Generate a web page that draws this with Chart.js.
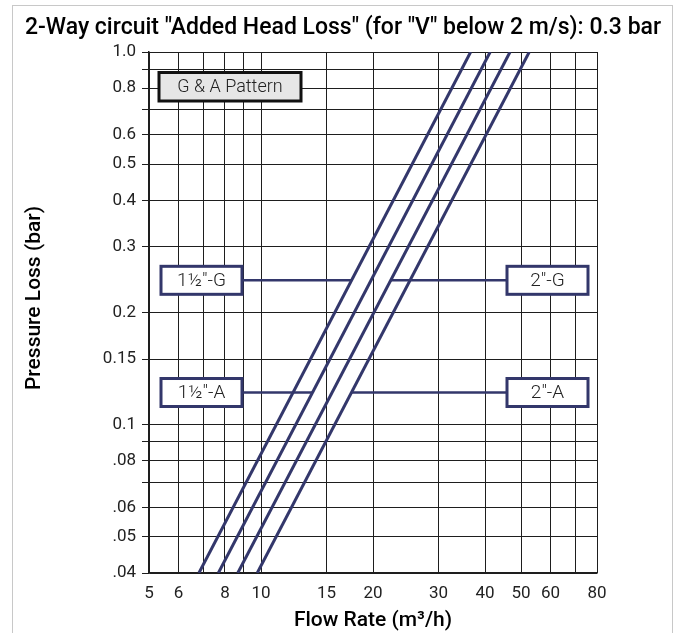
<!DOCTYPE html>
<html><head><meta charset="utf-8">
<script src="https://cdn.jsdelivr.net/npm/chart.js@4.4.1/dist/chart.umd.min.js"></script>
<style>
html,body{margin:0;padding:0;background:#fff;}
#frame{position:absolute;left:12px;top:5px;width:661px;height:700px;border:1px solid #c8c8c8;box-sizing:border-box;}
#c{position:absolute;left:0;top:0;}
</style></head><body>
<div id="frame"></div>
<canvas id="c" width="678" height="633"></canvas>
<script>
// ---- data ----
const chartTitle = '2-Way circuit "Added Head Loss" (for "V" below 2 m/s): 0.3 bar';
const xAxisTitle = 'Flow Rate (m³/h)';
const yAxisTitle = 'Pressure Loss (bar)';
const patternLabel = 'G & A Pattern';
const seriesNames = ['1½"-G', '1½″-A', '2″-G', '2"-A'];
const pressureEnds = [0.04, 1.0];
const flow15G = [6.81, 36.6];
const flow15A = [7.68, 41.3];
const flow2G = [8.66, 46.7];
const flow2A = [9.77, 52.6];
const calloutPressure = [0.244, 0.122, 0.244, 0.122];
const xGridValues = [5, 6, 7, 8, 9, 10, 15, 20, 30, 40, 50, 60, 70, 80];
const xTickLabels = ['5', '6', '', '8', '', '10', '15', '20', '30', '40', '50', '60', '', '80'];
const yGridValues = [0.04, 0.05, 0.06, 0.07, 0.08, 0.09, 0.1, 0.15, 0.2, 0.3, 0.4, 0.5, 0.6, 0.7, 0.8, 0.9, 1.0];
const yTickLabels = ['.04', '.05', '.06', '', '.08', '', '0.1', '0.15', '0.2', '0.3', '0.4', '0.5', '0.6', '', '0.8', '', '1.0'];

// ---- style ----
const FONT = 'Roboto, "Open Sans", "DejaVu Sans", sans-serif';
const NAVY = '#33376b';
const GRID = '#1e1e1e';
const TEXT = '#222222';

const flows = [flow15G, flow15A, flow2G, flow2A];
const datasets = seriesNames.map((name, i) => ({
  label: name,
  data: pressureEnds.map((p, j) => ({ x: flows[i][j], y: p })),
  showLine: true,
  borderColor: NAVY,
  borderWidth: 3,
  pointRadius: 0,
  fill: false
}));

function labelFor(values, labels, v) {
  for (let i = 0; i < values.length; i++) if (Math.abs(values[i] - v) < 1e-9) return labels[i];
  return '';
}

const overlay = {
  id: 'overlay',
  afterDatasetsDraw(chart) {
    const { ctx, chartArea: a, scales: { x, y } } = chart;
    ctx.save();
    chart.data.datasets.forEach((ds, i) => {
      const d = ds.data;
      const p = calloutPressure[i];
      const t = (Math.log(p) - Math.log(d[0].y)) / (Math.log(d[1].y) - Math.log(d[0].y));
      const q = Math.exp(Math.log(d[0].x) + t * (Math.log(d[1].x) - Math.log(d[0].x)));
      const lx = x.getPixelForValue(q);
      const py = y.getPixelForValue(p);
      const w = 81, h = 28;
      const leftSide = i < 2;
      const bx = leftSide ? a.left + 12 : a.right - 9 - w;
      const by = py - h / 2;
      ctx.strokeStyle = NAVY;
      ctx.lineWidth = 2.5;
      ctx.beginPath();
      if (leftSide) { ctx.moveTo(bx + w, py); ctx.lineTo(lx, py); }
      else { ctx.moveTo(bx, py); ctx.lineTo(lx, py); }
      ctx.stroke();
      ctx.fillStyle = '#ffffff';
      ctx.fillRect(bx, by, w, h);
      ctx.lineWidth = 3;
      ctx.strokeRect(bx, by, w, h);
      ctx.fillStyle = TEXT;
      ctx.font = '300 19px ' + FONT;
      ctx.textAlign = 'center';
      ctx.textBaseline = 'middle';
      ctx.fillText(ds.label, bx + w / 2, py + 1);
    });
    const px = a.left + 10, pyTop = a.top + 20.5, pw = 142, ph = 28.5;
    ctx.fillStyle = '#e6e6e6';
    ctx.fillRect(px, pyTop, pw, ph);
    ctx.strokeStyle = '#111';
    ctx.lineWidth = 3;
    ctx.strokeRect(px, pyTop, pw, ph);
    ctx.fillStyle = TEXT;
    ctx.font = '300 18px ' + FONT;
    ctx.textAlign = 'center';
    ctx.textBaseline = 'middle';
    ctx.fillText(patternLabel, px + pw / 2, pyTop + ph / 2 + 1);
    ctx.restore();
  },
  afterDraw(chart) {
    const { ctx, chartArea: a } = chart;
    ctx.save();
    ctx.fillStyle = '#000';
    ctx.textAlign = 'center';
    ctx.textBaseline = 'middle';
    ctx.font = '500 23px ' + FONT;
    ctx.fillText(chartTitle, 343, 28);
    ctx.font = '500 21px ' + FONT;
    ctx.fillText(xAxisTitle, (a.left + a.right) / 2, 621);
    ctx.translate(35, 298);
    ctx.rotate(-Math.PI / 2);
    ctx.fillText(yAxisTitle, 0, 0);
    ctx.restore();
  }
};

new Chart(document.getElementById('c'), {
  type: 'scatter',
  data: { datasets },
  options: {
    responsive: false,
    devicePixelRatio: 1,
    animation: false,
    layout: { padding: { top: 52, right: 81, bottom: 0, left: 0 } },
    plugins: { legend: { display: false }, title: { display: false }, tooltip: { enabled: false } },
    scales: {
      x: {
        type: 'logarithmic',
        min: 5, max: 80,
        afterFit(s) { s.height = 60; },
        afterBuildTicks(s) { s.ticks = xGridValues.map(v => ({ value: v })); },
        grid: { color: GRID, lineWidth: 1, drawTicks: false },
        border: { color: GRID, width: 1.5 },
        ticks: {
          autoSkip: false, maxRotation: 0, padding: 11,
          color: '#222', font: { family: FONT, size: 17, weight: '400' },
          callback: (v) => labelFor(xGridValues, xTickLabels, v)
        }
      },
      y: {
        type: 'logarithmic',
        min: 0.04, max: 1.0,
        afterFit(s) { s.width = 149; },
        afterBuildTicks(s) { s.ticks = yGridValues.map(v => ({ value: v })); },
        grid: { color: GRID, lineWidth: 1, drawTicks: true, tickLength: 7 },
        border: { color: GRID, width: 1.5 },
        ticks: {
          autoSkip: false, padding: 6,
          color: '#222', font: { family: FONT, size: 17, weight: '400' },
          callback: (v) => labelFor(yGridValues, yTickLabels, v)
        }
      }
    }
  },
  plugins: [overlay]
});
</script>
</body></html>
